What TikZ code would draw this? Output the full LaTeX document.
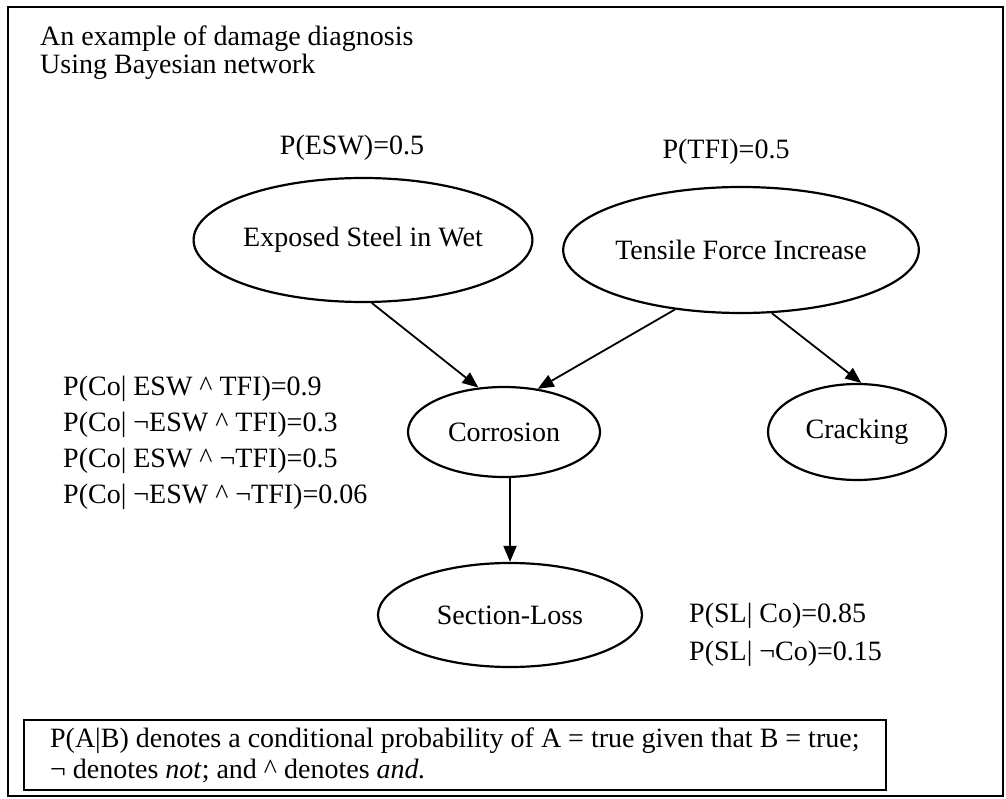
\documentclass[tikz,border=0pt]{standalone}
\usepackage{fontspec}
\setmainfont{Liberation Serif}
\usetikzlibrary{arrows.meta, positioning, shapes.geometric}

\begin{document}
\begin{tikzpicture}[x=1pt, y=-1pt, font=\fontsize{28}{36}\selectfont,
    ARR/.style={-{Triangle[length=16pt,width=13pt]}, line width=1.8pt},
    BN/.style={draw, ellipse, line width=2.2pt, inner sep=0pt},
    TXT/.style={anchor=north west, align=left, inner sep=0pt}]
    \useasboundingbox (0,0) rectangle (1006,799);
    \draw[line width=2.4pt] (8,7) rectangle (1003,796);
    \node[TXT, font=\fontsize{28}{27.5}\selectfont] (title) at (40,26) {An example of damage diagnosis\\Using Bayesian network};
    % nodes of the network
    \node[BN, minimum width=276pt, minimum height=124pt] (esw) at (363,240) {Exposed Steel in Wet};
    \node[BN, minimum width=298pt, minimum height=126pt] (tfi) at (741,250) {Tensile Force Increase};
    \node[BN, minimum width=192pt, minimum height=90pt] (co) at (504,432) {Corrosion};
    \node[BN, minimum width=178pt, minimum height=96pt] (cr) at (857,432) {Cracking};
    \node[BN, minimum width=264pt, minimum height=104pt] (sl) at (510,615) {Section-Loss};
    % probabilities
    \node (pesw) at (352,148) {P(ESW)=0.5};
    \node (ptfi) at (726,152) {P(TFI)=0.5};
    \node[TXT] (pco) at (63,376) {P(Co| ESW \textasciicircum{} TFI)=0.9\\P(Co| ¬ESW \textasciicircum{} TFI)=0.3\\P(Co| ESW \textasciicircum{} ¬TFI)=0.5\\P(Co| ¬ESW \textasciicircum{} ¬TFI)=0.06};
    \node[TXT, font=\fontsize{28}{38}\selectfont] (psl) at (689,603) {P(SL| Co)=0.85\\P(SL| ¬Co)=0.15};
    \node[draw, line width=1.6pt, anchor=north west, minimum width=862pt, minimum height=70pt, inner xsep=8pt, align=left, font=\fontsize{28}{31}\selectfont] (note) at (23,719) {P(A|B) denotes a conditional probability of A = true given that B = true;\\¬ denotes \textit{not}; and \textasciicircum{} denotes \textit{and.}};
    % arcs
    \draw[ARR] (esw.-82) -- (co.120);
    \draw[ARR] (tfi.-138) -- (co.52);
    \draw[ARR] (tfi.-64) -- (cr.85);
    \draw[ARR] (co.south -| sl.north) -- (sl.north);
\end{tikzpicture}
\end{document}
